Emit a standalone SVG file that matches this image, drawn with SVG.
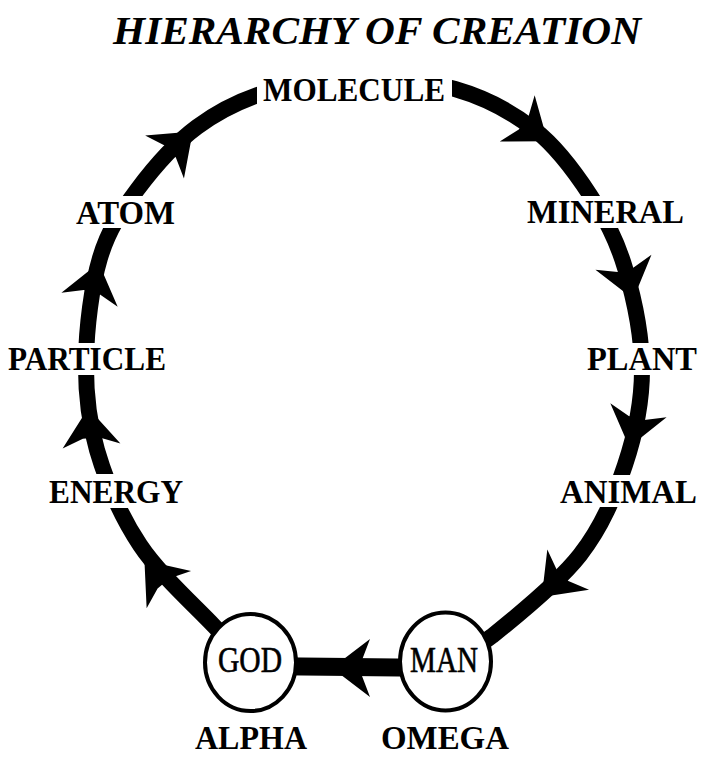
<svg xmlns="http://www.w3.org/2000/svg" xmlns:xlink="http://www.w3.org/1999/xlink" width="701" height="757" viewBox="0 0 701 757">
<style>
.ring{fill:none;stroke:#000;stroke-width:16;stroke-linejoin:round}
.link{fill:none;stroke:#000;stroke-width:18}
.bg{fill:#fff;stroke:none}
.lbl{font-family:"Liberation Serif","Times New Roman",serif;font-weight:bold;font-size:33px;fill:#000}
.inner{font-family:"Liberation Serif","Times New Roman",serif;font-weight:normal;font-size:35px;fill:#000;stroke:#000;stroke-width:0.6}
.title{font-family:"Liberation Serif","Times New Roman",serif;font-weight:bold;font-style:italic;font-size:41px;fill:#000}
.circ{fill:#fff;stroke:#000;stroke-width:4}
</style>
<defs>
<path id="ah" d="M32,0 L-6,-29 L2,-8 L2,8 L-6,29 Z" fill="#000"/>
</defs>
<rect width="701" height="757" fill="#fff"/>
<g id="title"><text class="title" x="113" y="44" textLength="528" lengthAdjust="spacingAndGlyphs">HIERARCHY OF CREATION</text></g>
<g id="connectors">
<path class="ring" d="M250,662 C244,656 232.3,645.5 214,626 C195.7,606.5 159.5,574.3 140,545 C120.5,515.7 106,480.8 97,450 C88,419.2 85.5,392 86,360 C86.5,328 91.5,286.3 100,258 C108.5,229.7 120.8,211.8 137,190 C153.2,168.2 174.8,143.5 197,127 C219.2,110.5 243.2,99 270,91 C296.8,83 327.2,79.3 358,79 C388.8,78.7 425.5,80.5 455,89 C484.5,97.5 512.5,112.3 535,130 C557.5,147.7 575,172 590,195 C605,218 616.3,238.8 625,268 C633.7,297.2 642,337.2 642,370 C642,402.8 635.3,434.2 625,465 C614.7,495.8 602.2,526.5 580,555 C557.8,583.5 514.3,618.2 492,636 C469.7,653.8 453.7,657.7 446,662"/>
<path class="link" d="M446,668 L250,666"/>
<use xlink:href="#ah" transform="translate(165,585) rotate(-130)"/>
<use xlink:href="#ah" transform="translate(91,440) rotate(-95)"/>
<use xlink:href="#ah" transform="translate(91,294) rotate(-76)"/>
<use xlink:href="#ah" transform="translate(169,153) rotate(-42)"/>
<use xlink:href="#ah" transform="translate(522,122) rotate(37)"/>
<use xlink:href="#ah" transform="translate(625,268) rotate(75)"/>
<use xlink:href="#ah" transform="translate(637,416) rotate(104)"/>
<use xlink:href="#ah" transform="translate(564,574) rotate(134)"/>
<use xlink:href="#ah" transform="translate(364,668) rotate(180)"/>
</g>
<g id="node-molecule"><rect class="bg" x="257" y="68" width="195" height="40"/><text class="lbl" x="263" y="101" textLength="182" lengthAdjust="spacingAndGlyphs">MOLECULE</text></g>
<g id="node-mineral"><rect class="bg" x="523" y="196" width="165" height="32"/><text class="lbl" x="527" y="223" textLength="157" lengthAdjust="spacingAndGlyphs">MINERAL</text></g>
<g id="node-plant"><rect class="bg" x="583" y="343" width="118" height="32"/><text class="lbl" x="587" y="370" textLength="110" lengthAdjust="spacingAndGlyphs">PLANT</text></g>
<g id="node-animal"><rect class="bg" x="556" y="475" width="145" height="32"/><text class="lbl" x="560" y="503" textLength="137" lengthAdjust="spacingAndGlyphs">ANIMAL</text></g>
<g id="node-atom"><rect class="bg" x="71" y="196" width="108" height="32"/><text class="lbl" x="76" y="224" textLength="99" lengthAdjust="spacingAndGlyphs">ATOM</text></g>
<g id="node-particle"><rect class="bg" x="3" y="343" width="167" height="32"/><text class="lbl" x="8" y="370" textLength="158" lengthAdjust="spacingAndGlyphs">PARTICLE</text></g>
<g id="node-energy"><rect class="bg" x="45" y="474" width="142" height="34"/><text class="lbl" x="49" y="503" textLength="134" lengthAdjust="spacingAndGlyphs">ENERGY</text></g>
<g id="node-god"><ellipse class="circ" cx="250.5" cy="662.5" rx="45.5" ry="48.5"/><text class="inner" x="218" y="672" textLength="64" lengthAdjust="spacingAndGlyphs">GOD</text></g>
<g id="node-man"><ellipse class="circ" cx="445.5" cy="661.5" rx="45.5" ry="49"/><text class="inner" x="410" y="672" textLength="68" lengthAdjust="spacingAndGlyphs">MAN</text></g>
<g id="label-alpha"><text class="lbl" x="195" y="749" textLength="112" lengthAdjust="spacingAndGlyphs">ALPHA</text></g>
<g id="label-omega"><text class="lbl" x="381" y="749" textLength="128" lengthAdjust="spacingAndGlyphs">OMEGA</text></g>
</svg>
